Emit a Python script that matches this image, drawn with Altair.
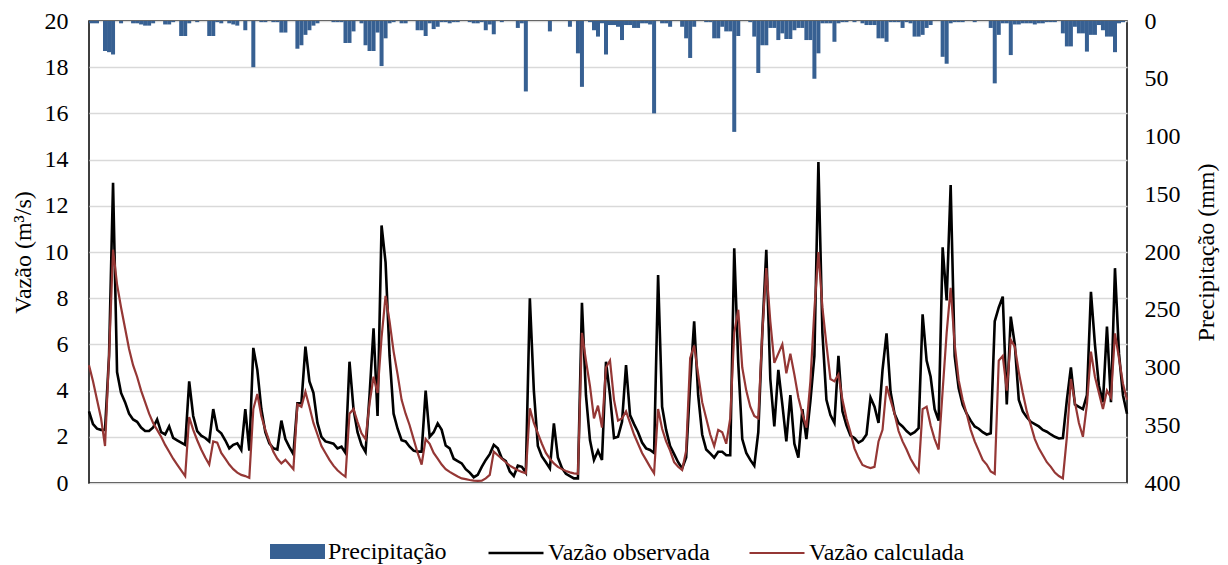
import altair as alt
import pandas as pd

# ---- data (one value per time step) ----
obs = [
    3.1, 2.55, 2.35, 2.3, 2.3, 5.5, 13.0, 4.8, 3.9, 3.5,
    3.0, 2.75, 2.65, 2.4, 2.25, 2.25, 2.4, 2.75, 2.2, 2.1,
    2.45, 1.95, 1.85, 1.75, 1.65, 4.4, 2.9, 2.25, 2.05, 1.95,
    1.8, 3.2, 2.3, 2.15, 1.85, 1.5, 1.65, 1.72, 1.43, 3.2,
    1.4, 5.85, 4.9, 3.2, 2.2, 1.72, 1.5, 1.45, 2.7, 1.9,
    1.55, 1.25, 3.45, 3.45, 5.9, 4.4, 3.9, 2.6, 2.0, 1.8,
    1.75, 1.7, 1.5, 1.57, 1.3, 5.25, 3.2, 2.2, 1.65, 1.35,
    3.8, 6.7, 2.9, 11.15, 9.55, 5.5, 3.0, 2.35, 1.85, 1.8,
    1.57, 1.4, 1.36, 1.36, 4.0, 2.0, 2.2, 2.58, 2.3, 1.62,
    1.5, 1.05, 0.95, 0.85, 0.6, 0.45, 0.25, 0.35, 0.7, 1.0,
    1.25, 1.65, 1.5, 1.07, 0.95, 0.5, 0.3, 0.75, 0.7, 0.45,
    8.0, 4.0, 1.6, 1.15, 0.9, 0.63, 2.58, 1.1, 0.65, 0.4,
    0.3, 0.2, 0.2, 7.8, 3.8, 1.86, 1.0, 1.4, 1.0, 5.25,
    3.8, 1.95, 2.0, 2.65, 5.1, 2.94, 2.55, 2.2, 1.75, 1.5,
    1.43, 1.3, 9.0, 3.3, 2.3, 1.6, 1.25, 0.9, 0.63, 1.1,
    4.3, 7.0, 3.8, 2.1, 1.45, 1.28, 1.1, 1.35, 1.35, 1.2,
    1.2, 10.16, 5.2, 1.9, 1.3, 1.0, 0.75, 2.2, 6.5, 10.1,
    4.5, 2.45, 4.9, 3.4, 1.8, 3.8, 1.7, 1.1, 3.2, 1.9,
    3.55, 5.5, 13.9, 6.5, 3.6, 2.94, 2.6, 5.5, 3.1, 2.5,
    2.05, 1.95, 1.75, 1.85, 2.1, 3.7, 3.3, 2.6, 4.9, 6.48,
    3.95, 3.0, 2.6, 2.45, 2.25, 2.1, 2.2, 2.37, 7.3, 5.3,
    4.6, 3.2, 2.7, 10.2, 7.9, 12.9, 5.5, 4.1, 3.38, 3.0,
    2.7, 2.45, 2.35, 2.2, 2.1, 2.15, 7.0, 7.6, 8.07, 3.4,
    7.2, 6.0, 3.6, 3.1, 2.85, 2.65, 2.55, 2.45, 2.3, 2.22,
    2.1, 2.0, 1.93, 1.95, 3.6, 5.0, 3.4, 3.3, 3.2, 3.8,
    8.28, 6.0, 4.2, 3.5, 6.77, 3.5, 9.3, 5.6, 3.8, 3.0,
]

calc = [
    5.1, 4.4, 3.6, 2.8, 1.6, 5.5, 10.1, 8.6, 7.6, 6.7,
    5.8, 5.1, 4.6, 4.0, 3.5, 3.0, 2.6, 2.3, 2.0, 1.65,
    1.35, 1.05, 0.8, 0.55, 0.3, 2.85, 2.3, 1.85, 1.45, 1.1,
    0.8, 1.8, 1.75, 1.3, 1.05, 0.8, 0.6, 0.45, 0.35, 0.3,
    0.22, 3.2, 3.85, 2.9, 2.3, 1.8, 1.35, 1.05, 0.85, 1.0,
    0.8, 0.6, 3.4, 3.3, 3.95, 3.3, 2.6, 2.1, 1.6, 1.3,
    1.0, 0.75, 0.55, 0.4, 0.27, 3.0, 3.2, 2.65, 2.15, 1.9,
    3.45, 4.6, 3.9, 6.3, 8.1, 7.0, 5.7, 4.7, 3.6, 3.0,
    2.5, 1.9, 1.3, 0.8, 1.9, 1.7, 1.3, 1.05, 0.8, 0.6,
    0.48, 0.38, 0.28, 0.2, 0.17, 0.13, 0.1, 0.09, 0.1, 0.2,
    0.35, 1.36, 1.2, 1.05, 0.9, 0.75, 0.65, 0.55, 0.48, 0.42,
    3.23, 2.6, 2.15, 1.7, 1.3, 1.05, 0.85, 0.7, 0.6, 0.52,
    0.46, 0.42, 0.4, 6.5, 5.3, 4.2, 2.8, 3.35, 2.4, 5.0,
    5.3, 3.6, 2.7, 2.8, 3.1, 2.6, 2.1, 1.7, 1.3, 1.0,
    0.7, 0.42, 3.2, 2.35, 1.8, 1.4, 0.9, 0.7, 0.56, 1.4,
    5.4, 5.95, 4.7, 3.5, 2.8, 2.1, 1.6, 2.3, 2.2, 1.7,
    2.8, 6.5, 7.5, 5.0, 4.0, 3.3, 2.9, 2.8, 6.5, 9.3,
    7.0, 5.2, 5.6, 6.0, 4.75, 5.6, 4.7, 3.7, 3.0, 2.4,
    4.4, 7.5, 10.0, 7.6, 6.0, 4.5, 4.4, 4.7, 3.6, 2.8,
    2.2, 1.5, 1.1, 0.78, 0.7, 0.65, 0.7, 1.8, 2.3, 4.2,
    3.6, 3.0, 2.25, 1.8, 1.45, 1.05, 0.75, 0.5, 3.2, 3.3,
    2.5, 1.9, 1.45, 4.0, 6.5, 8.45, 6.0, 4.45, 3.6, 3.0,
    2.3, 1.8, 1.4, 1.0, 0.8, 0.5, 0.4, 5.3, 5.5, 4.0,
    6.2, 5.9, 4.8, 3.9, 3.1, 2.5, 1.9, 1.5, 1.2, 0.9,
    0.7, 0.45, 0.3, 0.2, 2.0, 4.5, 3.5, 2.6, 2.0, 3.4,
    5.69, 4.6, 3.9, 3.2, 4.0, 3.7, 6.48, 5.4, 4.3, 3.6,
]

prec = [
    2, 2, 2, 0, 26, 27, 29, 0, 2, 0,
    0, 2, 2, 3, 4, 4, 2, 0, 0, 3,
    3, 1, 0, 13, 13, 2, 0, 1, 0, 0,
    13, 13, 1, 2, 0, 2, 3, 4, 0, 8,
    0, 40, 0, 1, 1, 0, 1, 1, 10, 10,
    0, 0, 24, 21, 12, 8, 4, 2, 0, 0,
    0, 1, 1, 1, 19, 19, 9, 0, 2, 21,
    26, 26, 10, 39, 15, 2, 1, 0, 2, 2,
    0, 0, 8, 8, 13, 2, 7, 5, 1, 1,
    2, 1, 1, 0, 0, 1, 2, 2, 1, 8,
    3, 11.5, 0, 1, 0, 0, 0, 6, 2, 61,
    0, 0, 0, 0, 0, 9, 0, 0, 0, 0,
    5, 0, 28, 57, 0, 1, 8, 13.5, 2, 29,
    3.5, 3.5, 5, 16.5, 3.5, 3.5, 6, 6, 2, 2,
    3, 80, 0, 2, 2, 5, 0, 0, 5, 15,
    32, 5, 0, 0, 1, 1, 15, 15, 5, 9,
    9, 96, 13, 0, 0, 1, 13.5, 45, 21, 21,
    6, 6, 16.5, 10.7, 15.6, 15.6, 8, 6, 6, 16.5,
    16.5, 50, 28, 2, 2, 2, 18, 2, 1, 1,
    0, 1, 0, 2, 3.5, 3.5, 3.5, 15, 15, 18,
    1, 1, 1, 6, 1, 2, 13.5, 13.5, 12, 6,
    3.5, 0, 0, 31, 37, 2, 1, 1, 1, 0,
    0, 1, 0, 0, 0, 6, 54, 12, 2, 2,
    29.5, 3, 3, 2, 2, 2, 3, 2, 2, 1,
    1, 1, 0, 10.7, 22, 22, 5, 10.7, 10.7, 26.5,
    12, 12, 3.5, 8, 13.5, 13.5, 27, 2, 1, 0,
]

series_names = ["Precipitação", "Vazão observada", "Vazão calculada"]
series_colors = ["#376092", "#000000", "#953735"]
line_widths = [2.6, 2.2]
flow_ticks = list(range(0, 21, 2))
rain_ticks = list(range(0, 401, 50))

n = len(obs)
steps = list(range(n))

df_p = pd.DataFrame({"t": steps, "p": prec, "serie": series_names[0]})
df_p["t0"] = df_p["t"] - 0.5
df_p["t1"] = df_p["t"] + 0.5
df_l = pd.concat([
    pd.DataFrame({"t": steps, "v": obs, "serie": series_names[1]}),
    pd.DataFrame({"t": steps, "v": calc, "serie": series_names[2]}),
], ignore_index=True)

FONT = "Liberation Serif"
FS = 24
xscale = alt.Scale(domain=[0, n - 1], nice=False, zero=False)

bars = alt.Chart(df_p).mark_bar(clip=True).encode(
    x=alt.X("t0:Q", scale=xscale, axis=None),
    x2="t1:Q",
    y=alt.Y(
        "p:Q",
        scale=alt.Scale(domain=[0, 400], reverse=True, nice=False),
        axis=alt.Axis(
            orient="right", values=rain_ticks, title="Precipitação (mm)",
            grid=False, ticks=False, domain=False, labelPadding=17,
            titlePadding=14, titleAngle=270, titleBaseline="top",
        ),
    ),
    y2=alt.datum(0),
    fill=alt.Fill(
        "serie:N",
        scale=alt.Scale(domain=[series_names[0]], range=[series_colors[0]]),
        legend=alt.Legend(
            title=None, orient="none", legendX=181, legendY=503,
            symbolType="M-1,-0.27H1V0.27H-1Z", symbolSize=3025,
            symbolStrokeWidth=0, symbolOpacity=1, labelOffset=3, padding=0,
        ),
    ),
)

lines = alt.Chart(df_l).mark_line().encode(
    x=alt.X("t:Q", scale=xscale, axis=None),
    y=alt.Y(
        "v:Q",
        scale=alt.Scale(domain=[0, 20], nice=False),
        axis=alt.Axis(
            orient="left", values=flow_ticks, title="Vazão (m³/s)",
            grid=True, gridColor="#D9D9D9", gridWidth=1.3, ticks=False,
            domain=False, labelPadding=21, titlePadding=9,
        ),
    ),
    stroke=alt.Stroke(
        "serie:N",
        scale=alt.Scale(domain=series_names[1:], range=series_colors[1:]),
        legend=alt.Legend(
            title=None, orient="none", legendX=398, legendY=503,
            direction="horizontal", symbolType="M-1,0H1", symbolSize=3025,
            symbolStrokeWidth=2, symbolFillColor="transparent",
            columnPadding=35, labelOffset=3, padding=0,
        ),
    ),
    strokeWidth=alt.StrokeWidth(
        "serie:N",
        scale=alt.Scale(domain=series_names[1:], range=line_widths),
        legend=None,
    ),
    detail="serie:N",
)

chart = (
    alt.layer(bars, lines)
    .resolve_scale(y="independent")
    .properties(
        width=1038, height=462,
        padding={"left": 81, "top": 13, "right": 93, "bottom": 82},
        autosize=alt.AutoSizeParams(type="none"),
        background="white",
    )
    .configure(font=FONT)
    .configure_view(stroke="black", strokeWidth=1.5)
    .configure_axis(
        labelFont=FONT, labelFontSize=FS, labelColor="black",
        titleFont=FONT, titleFontSize=FS, titleColor="black", titleFontWeight="normal",
    )
    .configure_legend(labelFont=FONT, labelFontSize=FS, labelColor="black", labelLimit=400)
)

chart.save("out.html", embed_options={"renderer": "svg", "actions": False})
